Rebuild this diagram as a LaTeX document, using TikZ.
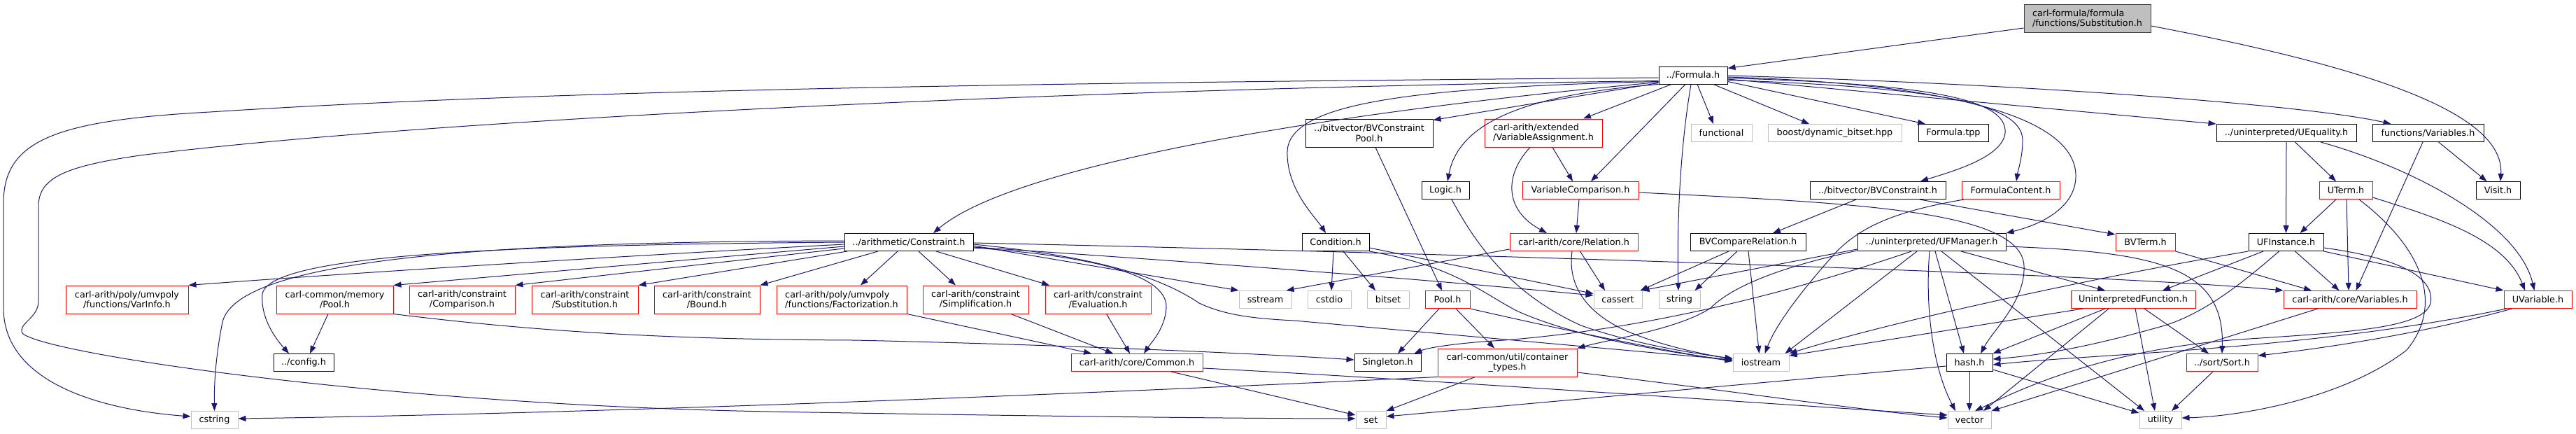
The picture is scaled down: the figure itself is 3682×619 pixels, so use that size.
\documentclass[tikz,border=0pt]{standalone}
\usepackage{fontspec}
\setmainfont{DejaVu Sans}
\usetikzlibrary{arrows.meta}
\definecolor{edgec}{RGB}{25,25,112}
\definecolor{grayb}{RGB}{191,191,191}
\definecolor{rootb}{RGB}{64,64,64}
\definecolor{redb}{RGB}{255,0,0}
\newcommand\bx[7]{\node[#6, minimum width={(#3-#2)*1pt}, minimum height={(#5-#4)*1pt}] (#1) at ({(#2+#3)/2},{(#4+#5)/2}) {#7};}
\begin{document}
\begin{tikzpicture}[x=1pt,y=-1pt,
  nbase/.style={rectangle, inner sep=0pt, line width=1pt, fill=white, align=center, font=\fontsize{12.8pt}{14.5pt}\selectfont},
  nb/.style={nbase, draw=black},
  nr/.style={nbase, draw=redb},
  ng/.style={nbase, draw=grayb},
  nroot/.style={nbase, draw=rootb, fill=grayb},
  edg/.style={draw=edgec, line width=1pt, -{Triangle[length=11pt,width=8pt]}, fill=none}]
\useasboundingbox (0,0) rectangle (3682,619);
% rank 0,1
\bx{N0}{2893}{3074}{6}{46}{nroot,align=left}{carl-formula/formula\\/functions/Substitution.h}
\bx{F}{2371}{2469}{95}{120}{nb}{../Formula.h}
% rank 2
\bx{BVCP}{1866}{2048}{170}{210}{nb}{../bitvector/BVConstraint\\Pool.h}
\bx{VA}{2122}{2290}{170}{210}{nr,align=left}{carl-arith/extended\\/VariableAssignment.h}
\bx{functional}{2417}{2504}{177.5}{202.5}{ng}{functional}
\bx{boost}{2527}{2718}{177.5}{202.5}{ng}{boost/dynamic\_bitset.hpp}
\bx{Ftpp}{2742}{2842}{177.5}{202.5}{nb}{Formula.tpp}
\bx{UEq}{3168}{3368}{177.5}{202.5}{nb}{../uninterpreted/UEquality.h}
\bx{FVars}{3391}{3550}{177.5}{202.5}{nb}{functions/Variables.h}
% rank 3
\bx{Logic}{2032}{2100}{259.5}{284.5}{nb}{Logic.h}
\bx{VC}{2176}{2342}{259.5}{284.5}{nr}{VariableComparison.h}
\bx{BVC}{2587}{2781}{259.5}{284.5}{nb}{../bitvector/BVConstraint.h}
\bx{FC}{2804}{2944}{259.5}{284.5}{nr}{FormulaContent.h}
\bx{UTerm}{3315}{3391}{259.5}{284.5}{nr}{UTerm.h}
\bx{Visit}{3539}{3602}{259.5}{284.5}{nb}{Visit.h}
% rank 4
\bx{Constr}{1207}{1391}{333.5}{358.5}{nb}{../arithmetic/Constraint.h}
\bx{Cond}{1861}{1957}{333.5}{358.5}{nb}{Condition.h}
\bx{Rel}{2158}{2341}{333.5}{358.5}{nr}{carl-arith/core/Relation.h}
\bx{BVCR}{2416}{2581}{333.5}{358.5}{nb}{BVCompareRelation.h}
\bx{UFM}{2655}{2867}{333.5}{358.5}{nb}{../uninterpreted/UFManager.h}
\bx{BVTerm}{3024}{3109}{333.5}{358.5}{nr}{BVTerm.h}
\bx{UFI}{3214}{3321}{333.5}{358.5}{nb}{UFInstance.h}
% rank 5
\bx{VarInfo}{94}{269}{408}{448}{nr}{carl-arith/poly/umvpoly\\/functions/VarInfo.h}
\bx{MemPool}{395}{562}{408}{448}{nr}{carl-common/memory\\/Pool.h}
\bx{Cmp}{585}{736}{408}{448}{nr}{carl-arith/constraint\\/Comparison.h}
\bx{Subst}{760}{912}{408}{448}{nr}{carl-arith/constraint\\/Substitution.h}
\bx{Bound}{935}{1086}{408}{448}{nr}{carl-arith/constraint\\/Bound.h}
\bx{Fact}{1110}{1296}{408}{448}{nr,align=left}{carl-arith/poly/umvpoly\\/functions/Factorization.h}
\bx{Simp}{1319}{1470}{408}{448}{nr}{carl-arith/constraint\\/Simplification.h}
\bx{Eval}{1494}{1645}{408}{448}{nr}{carl-arith/constraint\\/Evaluation.h}
\bx{sstream}{1771}{1846}{415.5}{440.5}{ng}{sstream}
\bx{cstdio}{1869}{1931}{415.5}{440.5}{ng}{cstdio}
\bx{bitset}{1954}{2014}{415.5}{440.5}{ng}{bitset}
\bx{Pool}{2037}{2101}{415.5}{440.5}{nr}{Pool.h}
\bx{cassert}{2278}{2347}{415.5}{440.5}{ng}{cassert}
\bx{string}{2371}{2430}{415.5}{440.5}{ng}{string}
\bx{UF}{2960}{3138}{415.5}{440.5}{nr}{UninterpretedFunction.h}
\bx{Vars}{3264}{3454}{415.5}{440.5}{nr}{carl-arith/core/Variables.h}
\bx{UVar}{3579}{3676}{415.5}{440.5}{nr}{UVariable.h}
% rank 6
\bx{config}{391}{477}{505.5}{530.5}{nb}{../config.h}
\bx{Common}{1531}{1719}{505.5}{530.5}{nr}{carl-arith/core/Common.h}
\bx{Singleton}{1936}{2031}{505.5}{530.5}{nb}{Singleton.h}
\bx{CT}{2055}{2254}{498}{538}{nr}{carl-common/util/container\\\_types.h}
\bx{iostream}{2477}{2557}{505.5}{530.5}{ng}{iostream}
\bx{hash}{2782}{2848}{505.5}{530.5}{nb}{hash.h}
\bx{Sort}{3125}{3227}{505.5}{530.5}{nr}{../sort/Sort.h}
% rank 7
\bx{cstring}{273}{340}{587.5}{612.5}{ng}{cstring}
\bx{set}{1938}{1981}{587.5}{612.5}{ng}{set}
\bx{vector}{2784}{2846}{587.5}{612.5}{ng}{vector}
\bx{utility}{3058}{3118}{587.5}{612.5}{ng}{utility}

% ================= edges
% root
\draw[edg] ([yshift=-14pt]N0.west) -- ([yshift=-3pt]F.north east);
\draw[edg] ([yshift=-11pt]N0.east) .. controls (3380,95) and (3580,160) .. ([xshift=3.5pt]Visit.north);
% Formula.h left side
\draw[edg] ([yshift=-3.5pt]F.west) .. controls (1500,118) and (800,128) .. (300,160) .. controls (80,172) and (5,200) .. (5,290) -- (5,440) .. controls (5,545) and (140,585) .. ([yshift=5pt]cstring.west);
\draw[edg] ([yshift=-8pt]F.west) .. controls (1500,127) and (600,172) .. (200,222) .. controls (90,238) and (55,255) .. (55,295) -- (55,430) .. controls (55,455) and (25,462) .. (32,476) .. controls (60,505) and (550,578) .. (1100,588) .. controls (1500,595) and (1800,598) .. ([yshift=2pt]set.west);
\draw[edg] ([yshift=-10pt]F.west) .. controls (1900,160) and (1450,235) .. ([xshift=35pt]Constr.north);
\draw[edg] ([yshift=-11pt]F.west) -- ([yshift=-2pt]BVCP.north east);
\draw[edg] ([yshift=-9pt]F.west) .. controls (2000,125) and (1845,150) .. (1840,215) .. controls (1838,270) and (1880,310) .. ([xshift=-14pt]Cond.north);
\draw[edg] (F.south west) .. controls (2180,135) and (2085,175) .. ([xshift=3pt]Logic.north);
% Formula.h bottom
\draw[edg] ([xshift=-31pt]F.south) -- ([xshift=57pt]VA.north);
\draw[edg] ([xshift=-11pt]F.south) -- ([xshift=15pt]VC.north);
\draw[edg] ([xshift=-3pt]F.south) .. controls (2400,220) and (2397,330) .. ([xshift=-1.5pt]string.north);
\draw[edg] ([xshift=6pt]F.south) -- ([xshift=-11.5pt]functional.north);
\draw[edg] ([xshift=29pt]F.south) -- ([xshift=-36.5pt]boost.north);
% Formula.h right side
\draw[edg] ([yshift=-9pt]F.east) -- ([xshift=-40pt]Ftpp.north);
\draw[edg] ([yshift=-4pt]F.east) .. controls (2750,120) and (2870,140) .. (2866,190) .. controls (2862,225) and (2790,245) .. ([xshift=61pt]BVC.north);
\draw[edg] ([yshift=-7pt]F.east) .. controls (2780,125) and (2890,150) .. (2891,200) .. controls (2891,225) and (2884,245) .. ([xshift=8pt]FC.north);
\draw[edg] ([yshift=-2.5pt]F.east) .. controls (2800,120) and (2965,170) .. (2967,250) .. controls (2968,295) and (2920,320) .. (UFM.north east);
\draw[edg] ([yshift=-5.5pt]F.east) -- (UEq.north west);
\draw[edg] ([yshift=-0.5pt]F.east) .. controls (2900,120) and (3300,150) .. ([xshift=-53pt]FVars.north);
% rank 2 sources
\draw[edg] ([xshift=9pt]BVCP.south) -- ([xshift=-8pt]Pool.north);
\draw[edg] ([xshift=13pt]VA.south) -- ([xshift=-11pt]VC.north);
\draw[edg] ([xshift=-19pt]VA.south) .. controls (2150,250) and (2150,300) .. ([xshift=-38.5pt]Rel.north);
\draw[edg] (UEq.south) -- (UFI.north);
\draw[edg] ([xshift=12.5pt]UEq.south) -- ([xshift=-14pt]UTerm.north);
\draw[edg] ([xshift=49pt]UEq.south) .. controls (3450,240) and (3600,320) .. ([xshift=-5pt]UVar.north);
\draw[edg] ([xshift=-7.5pt]FVars.south) -- ([xshift=8.5pt]Vars.north);
\draw[edg] ([xshift=15pt]FVars.south) -- ([xshift=-16pt]Visit.north);
% rank 3 sources
\draw[edg] ([xshift=-2pt]VC.south) -- ([xshift=3.5pt]Rel.north);
\draw[edg] ([yshift=-3pt]VC.east) .. controls (2650,290) and (2890,300) .. (2893,380) .. controls (2895,430) and (2850,470) .. ([xshift=16pt]hash.north);
\draw[edg] ([xshift=9pt]Logic.south) .. controls (2110,350) and (2160,420) .. (2260,465) .. controls (2330,490) and (2420,505) .. ([yshift=6pt]iostream.west);
\draw[edg] ([xshift=-31pt]BVC.south) -- ([xshift=35.5pt]BVCR.north);
\draw[edg] ([xshift=60pt]BVC.south) -- ([yshift=-2pt]BVTerm.north west);
\draw[edg] ([xshift=-67pt]FC.south) .. controls (2720,300) and (2660,320) .. (2620,365) .. controls (2580,410) and (2540,460) .. ([xshift=5.5pt]iostream.north);
\draw[edg] ([xshift=-14pt]UTerm.south) -- ([xshift=20pt]UFI.north);
\draw[edg] ([xshift=1pt]UTerm.south) -- ([xshift=-2pt]Vars.north);
\draw[edg] ([xshift=19pt]UTerm.south) .. controls (3470,360) and (3490,440) .. (3440,500) .. controls (3350,570) and (3200,595) .. ([yshift=3pt]utility.east);
\draw[edg] ([yshift=-10pt]UTerm.east) .. controls (3480,310) and (3580,340) .. ([xshift=-18.5pt]UVar.north);
% rank 4 sources
\draw[edg] ([yshift=2pt]Constr.west) .. controls (700,345) and (340,370) .. (318,460) .. controls (308,510) and (306,550) .. (cstring.north);
\draw[edg] (Constr.west) .. controls (700,350) and (385,365) .. (375,420) .. controls (372,455) and (395,485) .. ([xshift=-21pt]config.north);
\draw[edg] ([yshift=-3pt]Constr.west) .. controls (900,365) and (500,390) .. (VarInfo.north east);
\draw[edg] ([yshift=-6pt]Constr.west) -- (MemPool.north east);
\draw[edg] ([yshift=-9pt]Constr.west) -- (Cmp.north east);
\draw[edg] ([xshift=-88pt]Constr.south) -- (Subst.north east);
\draw[edg] ([xshift=-44pt]Constr.south) -- (Bound.north east);
\draw[edg] ([xshift=-16pt]Constr.south) -- ([xshift=27pt]Fact.north);
\draw[edg] ([xshift=14pt]Constr.south) -- ([xshift=-28.5pt]Simp.north);
\draw[edg] ([xshift=39pt]Constr.south) -- ([xshift=-69.5pt]Eval.north);
\draw[edg] ([yshift=-8pt]Constr.east) .. controls (1550,365) and (1670,390) .. (1667,440) .. controls (1665,470) and (1645,490) .. ([xshift=10pt]Common.north);
\draw[edg] ([yshift=-5pt]Constr.east) -- (sstream.north west);
\draw[edg] ([yshift=-7pt]Constr.east) .. controls (1800,380) and (2100,405) .. ([yshift=6pt]cassert.west);
\draw[edg] ([yshift=-1pt]Constr.east) .. controls (2000,360) and (3000,390) .. (Vars.north west);
\draw[edg] ([yshift=-3pt]Constr.east) .. controls (1550,365) and (1650,390) .. (1714,433) .. controls (1750,450) and (1790,455) .. (1850,458) -- ([yshift=4pt]iostream.west);
\draw[edg] ([xshift=-3pt]Cond.south) -- ([xshift=3pt]cstdio.north);
\draw[edg] ([xshift=11pt]Cond.south) -- ([xshift=-18pt]bitset.north);
\draw[edg] ([yshift=-8pt]Cond.east) -- ([yshift=8.5pt]cassert.west);
\draw[edg] (Cond.south east) .. controls (2080,380) and (2120,420) .. (2170,445) .. controls (2260,485) and (2400,505) .. ([yshift=3pt]iostream.west);
\draw[edg] ([yshift=-10pt]Rel.west) -- ([xshift=-8pt]sstream.north east);
\draw[edg] ([xshift=9pt]Rel.south) -- ([xshift=-18.5pt]cassert.north);
\draw[edg] ([xshift=-2.5pt]Rel.south) .. controls (2240,410) and (2270,450) .. (2330,475) .. controls (2380,495) and (2430,505) .. ([yshift=5pt]iostream.west);
\draw[edg] ([xshift=-27.5pt]BVCR.south) -- ([xshift=-3pt]cassert.north east);
\draw[edg] ([xshift=-15.5pt]BVCR.south) -- ([xshift=-8pt]string.north east);
\draw[edg] ([xshift=0.5pt]BVCR.south) -- ([xshift=-2.5pt]iostream.north);
\draw[edg] ([yshift=-10pt]UFM.west) -- ([xshift=-1pt]cassert.north east);
\draw[edg] ([yshift=-12pt]UFM.west) .. controls (2560,378) and (2480,405) .. (2445,440) .. controls (2400,470) and (2300,485) .. (CT.north east);
\draw[edg] ([xshift=-29pt]UFM.south) .. controls (2450,455) and (2250,478) .. (2150,486) .. controls (2080,490) and (2040,497) .. ([xshift=-10pt]Singleton.north east);
\draw[edg] ([xshift=-21pt]UFM.south) -- ([xshift=-6pt]iostream.north east);
\draw[edg] ([xshift=-3pt]UFM.south) .. controls (2752,430) and (2760,520) .. ([xshift=-20pt]vector.north);
\draw[edg] ([xshift=5pt]UFM.south) -- ([xshift=-8pt]hash.north);
\draw[edg] ([xshift=42pt]UFM.south) -- ([xshift=-40pt]UF.north);
\draw[edg] ([xshift=14pt]UFM.south) -- ([xshift=-23pt]utility.north);
\draw[edg] ([yshift=-6pt]UFM.east) .. controls (3080,360) and (3180,380) .. (Sort.north);
\draw[edg] (BVTerm.south east) -- ([xshift=-55pt]Vars.north);
\draw[edg] ([xshift=-32.5pt]UFI.south) -- ([xshift=42pt]UF.north);
\draw[edg] ([xshift=13pt]UFI.south) -- ([xshift=-15.5pt]Vars.north);
\draw[edg] (UFI.south east) -- (UVar.north west);
\draw[edg] (UFI.south west) .. controls (3000,395) and (2700,460) .. ([yshift=13pt]iostream.east);
\draw[edg] ([xshift=-10pt]UFI.south) .. controls (3210,400) and (3150,450) .. (3087,467) .. controls (3040,480) and (2950,505) .. ([yshift=5pt]hash.east);
\draw[edg] ([yshift=-8pt]UFI.east) .. controls (3440,370) and (3480,400) .. (3474,433) .. controls (3465,470) and (3350,475) .. (3200,485) .. controls (3000,500) and (2880,560) .. ([xshift=8pt]vector.north);
% rank 5 sources
\draw[edg] ([xshift=-9.5pt]MemPool.south) -- ([xshift=9pt]config.north);
\draw[edg] (MemPool.south east) .. controls (800,478) and (1000,485) .. (1220,486) .. controls (1500,492) and (1800,505) .. ([yshift=4pt]Singleton.west);
\draw[edg] (Fact.south east) -- ([xshift=-65pt]Common.north);
\draw[edg] ([xshift=50.5pt]Simp.south) -- ([xshift=-34pt]Common.north);
\draw[edg] ([xshift=12pt]Eval.south) -- ([xshift=-10pt]Common.north);
\draw[edg] ([xshift=-12pt]Pool.south) -- ([xshift=14.5pt]Singleton.north);
\draw[edg] ([xshift=12pt]Pool.south) -- ([xshift=-18.5pt]CT.north);
\draw[edg] (Pool.south east) .. controls (2250,475) and (2400,505) .. ([yshift=2pt]iostream.west);
\draw[edg] ([xshift=-72pt]UF.south) -- ([yshift=10pt]iostream.east);
\draw[edg] ([xshift=-40pt]UF.south) -- (hash.north east);
\draw[edg] ([xshift=-35pt]UF.south) -- ([xshift=20pt]vector.north);
\draw[edg] ([xshift=3pt]UF.south) -- ([xshift=-8pt]utility.north);
\draw[edg] ([xshift=16pt]UF.south) -- ([xshift=-19pt]Sort.north);
\draw[edg] ([xshift=-46pt]Vars.south) -- (vector.north east);
\draw[edg] ([xshift=-37pt]UVar.south) .. controls (3450,480) and (3300,500) .. ([yshift=10pt]Sort.east);
\draw[edg] ([xshift=-45pt]UVar.south) .. controls (3300,500) and (3000,505) .. ([yshift=-3pt]hash.east);
% rank 6 sources
\draw[edg] ([xshift=49pt]Common.south) -- ([yshift=7pt]set.west);
\draw[edg] ([yshift=-8pt]Common.east) .. controls (2000,540) and (2500,575) .. ([yshift=7pt]vector.west);
\draw[edg] (CT.south west) .. controls (1600,560) and (900,590) .. ([yshift=2pt]cstring.east);
\draw[edg] ([xshift=-46pt]CT.south) -- (set.north east);
\draw[edg] ([yshift=-14pt]CT.east) .. controls (2450,555) and (2650,585) .. ([yshift=3pt]vector.west);
\draw[edg] (hash.south) -- (vector.north);
\draw[edg] ([yshift=-5pt]hash.west) -- ([yshift=5pt]set.east);
\draw[edg] ([yshift=-10pt]hash.east) -- ([yshift=10pt]utility.west);
\draw[edg] ([xshift=-13pt]Sort.south) -- ([xshift=16pt]utility.north);
\end{tikzpicture}
\end{document}
